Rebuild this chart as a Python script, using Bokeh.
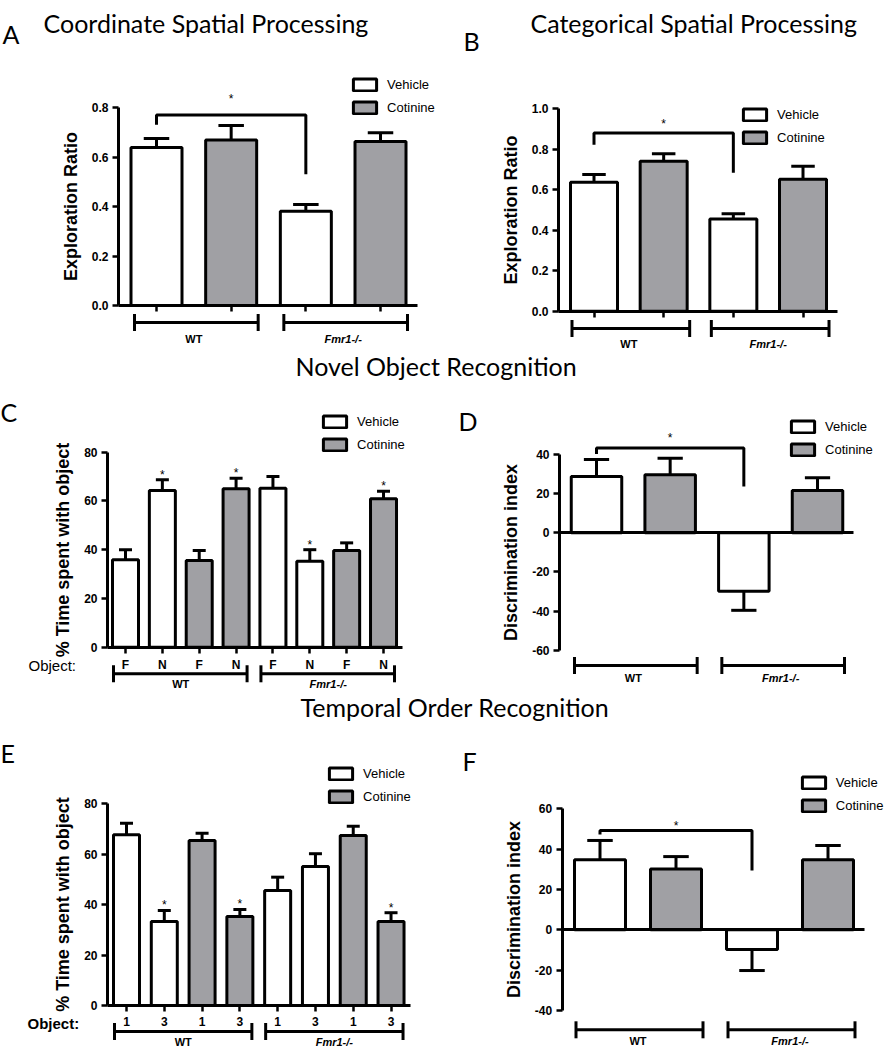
from bokeh.plotting import figure
from bokeh.models import (Range1d, LinearAxis, FixedTicker, PrintfTickFormatter,
                          Legend, LegendItem, Label, ColumnDataSource)
from bokeh.layouts import column, row
from bokeh.core.properties import value
from bokeh.embed import file_html
from bokeh.resources import INLINE

# ---------------- data ----------------
treatments = ["Vehicle", "Cotinine"]

A_group = ["WT", "WT", "Fmr1-/-", "Fmr1-/-"]
A_treat = ["Vehicle", "Cotinine", "Vehicle", "Cotinine"]
A_mean = [0.638, 0.669, 0.381, 0.663]
A_sem = [0.037, 0.058, 0.027, 0.035]
A_yticks = [0.0, 0.2, 0.4, 0.6, 0.8]

B_group = ["WT", "WT", "Fmr1-/-", "Fmr1-/-"]
B_treat = ["Vehicle", "Cotinine", "Vehicle", "Cotinine"]
B_mean = [0.637, 0.741, 0.456, 0.652]
B_sem = [0.038, 0.037, 0.025, 0.064]
B_yticks = [0.0, 0.2, 0.4, 0.6, 0.8, 1.0]

C_group = ["WT"] * 4 + ["Fmr1-/-"] * 4
C_treat = ["Vehicle", "Vehicle", "Cotinine", "Cotinine"] * 2
C_object = ["F", "N", "F", "N", "F", "N", "F", "N"]
C_mean = [35.9, 64.3, 35.6, 65.0, 65.2, 35.3, 39.7, 60.9]
C_sem = [4.1, 4.4, 4.1, 4.3, 4.8, 4.7, 3.1, 3.1]
C_star = [False, True, False, True, False, True, False, True]
C_yticks = [0, 20, 40, 60, 80]

D_group = ["WT", "WT", "Fmr1-/-", "Fmr1-/-"]
D_treat = ["Vehicle", "Cotinine", "Vehicle", "Cotinine"]
D_mean = [28.7, 29.6, -29.8, 21.6]
D_sem = [8.7, 8.5, 9.8, 6.5]
D_yticks = [-60, -40, -20, 0, 20, 40]

E_group = ["WT"] * 4 + ["Fmr1-/-"] * 4
E_treat = ["Vehicle", "Vehicle", "Cotinine", "Cotinine"] * 2
E_object = ["1", "3", "1", "3", "1", "3", "1", "3"]
E_mean = [67.7, 33.3, 65.4, 35.3, 45.6, 55.1, 67.4, 33.3]
E_sem = [4.6, 4.4, 2.9, 2.8, 5.3, 5.1, 3.7, 3.5]
E_star = [False, True, False, True, False, False, False, True]
E_yticks = [0, 20, 40, 60, 80]

F_group = ["WT", "WT", "Fmr1-/-", "Fmr1-/-"]
F_treat = ["Vehicle", "Cotinine", "Vehicle", "Cotinine"]
F_mean = [34.7, 30.2, -9.8, 34.7]
F_sem = [9.6, 6.1, 10.4, 7.1]
F_yticks = [-40, -20, 0, 20, 40, 60]

# significance bracket (WT vehicle vs Fmr1-/- vehicle): bar level, left end, right end, star
A_sig = [0.77, 0.73, 0.53, 0.835]
B_sig = [0.881, 0.822, 0.684, 0.925]
D_sig = [43.3, 40.3, 23.6, 48.5]
F_sig = [49.2, 47.2, 29.4, 51.5]

# ---------------- style ----------------
FILL = {"Vehicle": "#FFFFFF", "Cotinine": "#A0A0A4"}
SANS = "Liberation Sans"
HEAD = "Lato"

# ---------------- layout (page pixels) ----------------
LAYOUT = {
    "A": dict(origin=(0, 0), size=(444, 352), y_zero=305, y_ref=(0.8, 107), x_first=156, x_step=74.67,
              yaxis=118, xend=417, bar=51, br_y=322, pad=(22, 27), lab_y=332, leg=(353, 113),
              title=("Coordinate Spatial Processing", 43, 22), letter=("A", 2, 33)),
    "B": dict(origin=(444, 0), size=(450, 352), y_zero=310.7, y_ref=(1.0, 108.3), x_first=593.5, x_step=69.67,
              yaxis=558, xend=837, bar=47, br_y=328, pad=(22, 26), lab_y=337, leg=(743, 143),
              title=("Categorical Spatial Processing", 530, 22), letter=("B", 463, 40)),
    "C": dict(origin=(0, 390), size=(444, 302), y_zero=646.7, y_ref=(80, 451.7), x_first=125, x_step=36.86,
              yaxis=107, xend=402, bar=26, br_y=673.3, pad=(12, 11), lab_y=677.5, leg=(323, 450),
              title=None, letter=("C", 0, 411), obj=("Object:", 28, 665, "normal")),
    "D": dict(origin=(444, 390), size=(450, 302), y_zero=532.3, y_ref=(40, 454), x_first=596, x_step=73.67,
              yaxis=559, xend=853, bar=50.5, br_y=665, pad=(22, 27), lab_y=671, leg=(791, 455),
              title=None, letter=("D", 458, 420)),
    "E": dict(origin=(0, 728), size=(444, 322), y_zero=1005, y_ref=(80, 803.3), x_first=126, x_step=37.79,
              yaxis=107, xend=410, bar=26, br_y=1031, pad=(12, 12), lab_y=1035, leg=(329, 802),
              title=None, letter=("E", 0, 752), obj=("Object:", 27, 1023, "bold")),
    "F": dict(origin=(444, 728), size=(450, 322), y_zero=929.3, y_ref=(60, 808.3), x_first=599.5, x_step=76,
              yaxis=561.7, xend=864, bar=51, br_y=1029.3, pad=(24, 27), lab_y=1034, leg=(801.7, 811.7),
              title=None, letter=("F", 462, 760)),
}


def panel(key, group, treat, mean, sem, ylabel, yticks, yfmt, xlabels=None, stars=None, sig=None):
    s = LAYOUT[key]
    ox, oy = s["origin"]
    W, H = s["size"]
    rv, rpx = s["y_ref"]
    ppu = (s["y_zero"] - rpx) / rv

    def vx(px):
        return (px - s["x_first"]) / s["x_step"]

    def vy(py):
        return (s["y_zero"] - py) / ppu

    def dpx(n):  # pixels -> data units (vertical)
        return n / ppu

    p = figure(width=W, height=H, x_range=Range1d(vx(ox), vx(ox + W)),
               y_range=Range1d(vy(oy + H), vy(oy)), x_axis_type=None, y_axis_type=None,
               toolbar_location=None, output_backend="svg", min_border=0, title=None)
    p.outline_line_color = None
    n = len(mean)
    xs = list(range(n))
    ends = [m + e if m >= 0 else m - e for m, e in zip(mean, sem)]
    bw = s["bar"] / s["x_step"]
    cw = bw / 4

    # error bars
    p.segment(x0=xs, y0=mean, x1=xs, y1=ends, line_color="black", line_width=3)
    p.segment(x0=[x - cw for x in xs], y0=ends, x1=[x + cw for x in xs], y1=ends,
              line_color="black", line_width=3)

    rends = {}
    for tr in treatments:
        idx = [i for i in xs if treat[i] == tr]
        src = ColumnDataSource(dict(x=[xs[i] for i in idx], top=[mean[i] for i in idx]))
        rends[tr] = p.vbar(x="x", top="top", bottom=0, width=bw, source=src,
                           fill_color=FILL[tr], line_color="black", line_width=3)

    # axes
    yaxis_x = vx(s["yaxis"])
    ya = LinearAxis(fixed_location=yaxis_x, bounds=(yticks[0], yticks[-1]),
                    ticker=FixedTicker(ticks=yticks), formatter=PrintfTickFormatter(format=yfmt),
                    axis_label=ylabel)
    ya.axis_line_width = 3
    ya.major_tick_line_width = 2.5
    ya.major_tick_out = 6
    ya.major_tick_in = 0
    ya.minor_tick_line_color = None
    ya.major_label_standoff = 4
    ya.major_label_text_font = SANS
    ya.major_label_text_font_style = "bold"
    ya.major_label_text_font_size = "12px"
    ya.major_label_text_color = "black"
    ya.axis_label_text_font = SANS
    ya.axis_label_text_font_style = "bold"
    ya.axis_label_text_font_size = "18px"
    ya.axis_label_text_color = "black"
    ya.axis_label_standoff = 8
    p.add_layout(ya, "left")

    has_neg = yticks[0] < 0
    xa = LinearAxis(fixed_location=0, bounds=(yaxis_x, vx(s["xend"])), ticker=FixedTicker(ticks=xs))
    xa.axis_line_width = 3
    xa.minor_tick_line_color = None
    xa.major_tick_in = 0
    xa.major_tick_out = 0 if has_neg else 6
    xa.major_tick_line_width = 2.5
    if has_neg:
        xa.major_tick_line_color = None
    if xlabels is None:
        xa.major_label_text_color = None
    else:
        xa.major_label_overrides = {i: lab for i, lab in enumerate(xlabels)}
        xa.major_label_text_font = SANS
        xa.major_label_text_font_style = "bold"
        xa.major_label_text_font_size = "12px"
        xa.major_label_text_color = "black"
        xa.major_label_standoff = 5
    p.add_layout(xa, "below")

    # group brackets
    gnames = []
    for g in group:
        if g not in gnames:
            gnames.append(g)
    by = vy(s["br_y"])
    hx0, hx1, gc = [], [], []
    for g in gnames:
        idx = [i for i in xs if group[i] == g]
        hx0.append(idx[0] - s["pad"][0] / s["x_step"])
        hx1.append(idx[-1] + s["pad"][1] / s["x_step"])
        gc.append((idx[0] + idx[-1]) / 2)
    p.segment(x0=hx0, y0=[by] * len(gnames), x1=hx1, y1=[by] * len(gnames),
              line_color="black", line_width=3)
    capx = hx0 + hx1
    p.segment(x0=capx, y0=[by - dpx(8.5)] * len(capx), x1=capx, y1=[by + dpx(8.5)] * len(capx),
              line_color="black", line_width=3)
    styles = ["bold italic" if "Fmr" in g else "bold" for g in gnames]
    p.text(x=gc, y=[vy(s["lab_y"])] * len(gnames), text=gnames,
           text_font_style=styles, text_align="center", text_baseline="top",
           text_font=value(SANS), text_font_size=value("11px"), text_color="black")

    # stars over bars
    if stars is not None:
        sx = [i for i in xs if stars[i]]
        p.text(x=sx, y=[ends[i] + dpx(5) for i in sx], text=["*"] * len(sx),
               text_align="center", text_baseline="middle", text_font=value(SANS),
               text_font_size=value("12px"), text_color="black")

    # significance bracket between vehicle groups
    if sig is not None:
        lvl, lend, rend, st = sig
        i0 = xs[0]
        i1 = [i for i in xs if group[i] != group[0] and treat[i] == treat[0]][0]
        p.line(x=[i0, i0, i1, i1], y=[lend, lvl, lvl, rend], line_color="black", line_width=3)
        p.text(x=[(i0 + i1) / 2], y=[st], text=["*"], text_align="center", text_baseline="middle",
               text_font=value(SANS), text_font_size=value("12px"), text_color="black")

    # legend
    lx, lyb = s["leg"]
    legend = Legend(items=[LegendItem(label=tr, renderers=[rends[tr]]) for tr in treatments],
                    location=(lx - 2.9 - ox, (oy + H) - (lyb + 1.5)),
                    glyph_width=29, glyph_height=15, label_height=15, spacing=8,
                    padding=0, margin=0, label_standoff=8, border_line_color=None,
                    background_fill_alpha=0, label_text_font=SANS, label_text_font_size="13px",
                    label_text_color="black")
    p.add_layout(legend)

    def lab(text, px, py, font, size, style="normal", baseline="alphabetic"):
        p.add_layout(Label(x=px - ox, y=(oy + H) - py, x_units="screen", y_units="screen",
                           text=text, text_font=font, text_font_size=size, text_font_style=style,
                           text_baseline=baseline, text_color="black"))

    if s.get("title"):
        t, tx, ty = s["title"]
        lab(t, tx, ty, HEAD, "25px")
    L, lxx, lyy = s["letter"]
    lab(L, lxx, lyy, HEAD, "25px")
    if s.get("obj"):
        t, tx, ty, st = s["obj"]
        lab(t, tx, ty, SANS, "15px", st, "middle")
    return p


def title_fig(text, top, height, tx, baseline_y):
    p = figure(width=894, height=height, x_range=Range1d(0, 1), y_range=Range1d(0, 1),
               x_axis_type=None, y_axis_type=None, toolbar_location=None,
               output_backend="svg", min_border=0, title=None)
    p.outline_line_color = None
    p.add_layout(Label(x=tx, y=(top + height) - baseline_y, x_units="screen", y_units="screen",
                       text=text, text_font=HEAD, text_font_size="25px", text_color="black"))
    return p


pA = panel("A", A_group, A_treat, A_mean, A_sem, "Exploration Ratio", A_yticks, "%.1f", sig=A_sig)
pB = panel("B", B_group, B_treat, B_mean, B_sem, "Exploration Ratio", B_yticks, "%.1f", sig=B_sig)
pC = panel("C", C_group, C_treat, C_mean, C_sem, "% Time spent with object", C_yticks, "%d",
           xlabels=C_object, stars=C_star)
pD = panel("D", D_group, D_treat, D_mean, D_sem, "Discrimination index", D_yticks, "%d", sig=D_sig)
pE = panel("E", E_group, E_treat, E_mean, E_sem, "% Time spent with object", E_yticks, "%d",
           xlabels=E_object, stars=E_star)
pF = panel("F", F_group, F_treat, F_mean, F_sem, "Discrimination index", F_yticks, "%d", sig=F_sig)

t1 = title_fig("Novel Object Recognition", 352, 38, 295, 380)
t2 = title_fig("Temporal Order Recognition", 692, 36, 300, 721)

layout = column(row(pA, pB), t1, row(pC, pD), t2, row(pE, pF))

with open("out.html", "w") as f:
    f.write(file_html(layout, INLINE))
